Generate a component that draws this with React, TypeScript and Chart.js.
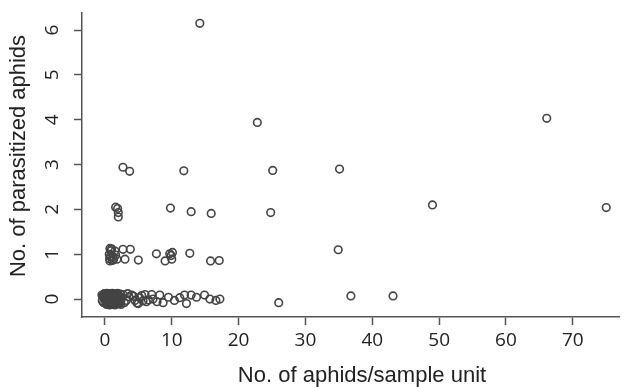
import React, { useEffect, useRef } from "react";
import { Chart, registerables } from "chart.js";

Chart.register(...registerables);

// Jittered counts: x = aphids per sample unit, y = parasitized aphids
const xVals: number[] = [
  // y ≈ 0, dense block
  0.0, 0.1, 0.2, 0.3, 0.4, 0.5, 0.6, 0.7, 0.8, 0.9, 1.0, 1.1, 1.2, 1.3, 1.4, 1.5, 1.6, 1.7, 1.8, 1.9, 2.0, 2.1, 2.2, 2.3, 2.4,
  -0.3, -0.2, 0.15, 0.35, 0.55, 0.75, 0.95, 1.15, 1.35, 1.55, 1.75, 1.95, 2.15, -0.1, 0.25, 0.65, 1.05, 1.45, 1.85, 2.25,
  0.05, 0.2, 0.45, 0.6, 0.85, 1.0, 1.25, 1.4, 1.65, 1.8, 2.0, 2.3, -0.4, -0.45, 0.3, 0.7, 1.1, 1.5, 1.9, 2.5,
  0.1, 0.9, 1.3, 1.7, 2.1, 0.5, -0.2, 2.4,
  // y ≈ 0, spread
  2.7, 3.2, 4.0, 4.5, 5.2, 5.7, 6.0, 7.0, 7.2, 8.2, 8.7, 9.5, 10.4, 11.2, 11.9, 12.2, 12.9, 13.7, 14.9, 15.7, 16.6, 17.2,
  3.6, 2.9, 5.0, 6.5, 7.8, 3.4, 4.3, 4.8, 5.5, 6.2, 26.0, 36.8, 43.1,
  // y ≈ 1
  0.75, 0.65, 0.75, 1.5, 1.8, 1.2, 0.9, 1.3, 2.7, 3.8, 3.0, 5.0, 7.7, 9.0, 9.7, 10.0, 9.9, 10.1, 12.7, 15.8, 17.1, 34.9,
  0.8, 1.0, 1.1, 1.6, 0.7,
  // y ≈ 2
  1.6, 1.9, 2.0, 2.0, 9.8, 12.9, 15.9, 24.8, 49.0, 75.0,
  // y ≈ 3
  2.7, 3.7, 11.8, 25.1, 35.1,
  // y ≈ 4
  22.8, 66.1,
  // y ≈ 6
  14.2,
];

const yVals: number[] = [
  0.08, -0.05, 0.11, -0.1, 0.02, 0.09, -0.07, 0.04, -0.12, 0.1, -0.02, 0.06, -0.09, 0.12, 0.0, -0.06, 0.08, -0.11, 0.03, 0.1, -0.04, 0.07, -0.1, 0.05, -0.02,
  0.05, -0.08, -0.01, 0.06, -0.11, 0.12, -0.03, 0.09, -0.07, 0.02, 0.11, -0.09, 0.0, 0.12, -0.12, 0.0, -0.1, 0.1, -0.05, 0.05,
  0.03, -0.09, 0.1, 0.0, -0.05, 0.08, -0.12, 0.1, -0.02, 0.09, -0.1, 0.11, -0.04, 0.09, 0.13, -0.13, 0.13, -0.13, 0.13, 0.02,
  0.0, 0.02, 0.04, -0.06, -0.07, -0.03, 0.1, -0.12,
  0.1, -0.03, 0.09, -0.03, 0.03, -0.04, 0.1, 0.1, 0.0, 0.09, -0.08, 0.04, -0.03, 0.03, 0.09, -0.1, 0.09, 0.04, 0.09, 0.0, -0.03, 0.0,
  0.05, -0.08, -0.1, -0.02, -0.06, 0.12, 0.06, -0.09, 0.08, -0.06, -0.08, 0.07, 0.07,
  1.13, 1.0, 0.85, 1.07, 0.89, 0.95, 1.08, 0.88, 1.11, 1.11, 0.89, 0.87, 1.01, 0.85, 1.01, 0.89, 0.97, 1.04, 1.02, 0.85, 0.86, 1.1,
  0.95, 1.12, 0.86, 0.98, 0.9,
  2.05, 2.02, 1.93, 1.83, 2.03, 1.95, 1.91, 1.93, 2.1, 2.04,
  2.94, 2.85, 2.86, 2.87, 2.9,
  3.94, 4.03,
  6.15,
];

const xTicks: number[] = [0, 10, 20, 30, 40, 50, 60, 70];
const yTicks: number[] = [0, 1, 2, 3, 4, 5, 6];
const xTitle = "No. of aphids/sample unit";
const yTitle = "No. of parasitized aphids";

export default function App() {
  const ref = useRef<HTMLCanvasElement | null>(null);

  useEffect(() => {
    document.body.style.margin = "0";
    const canvas = ref.current;
    if (!canvas) return;

    const axisColor = "#555555";
    const textColor = "#222222";

    const labelsPlugin = {
      id: "rLabels",
      afterDraw(chart: any) {
        const ctx = chart.ctx;
        const ys = chart.scales.y;
        const xs = chart.scales.x;
        ctx.save();
        ctx.fillStyle = textColor;
        // y tick labels, rotated
        ctx.font = "19px 'Open Sans'";
        ctx.textAlign = "center";
        ctx.textBaseline = "middle";
        for (const v of yTicks) {
          const py = ys.getPixelForValue(v);
          ctx.save();
          ctx.translate(53, py);
          ctx.rotate(-Math.PI / 2);
          ctx.fillText(String(v), 0, 0);
          ctx.restore();
        }
        // x tick labels
        for (const v of xTicks) {
          const px = xs.getPixelForValue(v);
          ctx.fillText(String(v), px, 341);
        }
        // titles
        ctx.font = "22px 'Liberation Sans'";
        ctx.fillText(xTitle, 362, 376);
        ctx.save();
        ctx.translate(19, 156);
        ctx.rotate(-Math.PI / 2);
        ctx.fillText(yTitle, 0, 0);
        ctx.restore();
        ctx.restore();
      },
    };

    const data = xVals.map((x, i) => ({ x, y: yVals[i] }));

    const chart = new Chart(canvas, {
      type: "scatter",
      data: {
        datasets: [
          {
            data,
            pointStyle: "circle",
            pointRadius: 3.8,
            pointBorderWidth: 1.6,
            pointBorderColor: "#444444",
            pointBackgroundColor: "rgba(0,0,0,0)",
            pointHoverRadius: 3.8,
          },
        ],
      },
      options: {
        animation: false,
        responsive: false,
        maintainAspectRatio: false,
        events: [],
        layout: { padding: { left: 0, top: 13, right: 4, bottom: 0 } },
        plugins: {
          legend: { display: false },
          tooltip: { enabled: false },
        },
        scales: {
          x: {
            type: "linear",
            min: -3.43,
            max: 77.0,
            afterBuildTicks: (scale: any) => {
              scale.ticks = xTicks.map((v) => ({ value: v }));
            },
            afterFit: (scale: any) => {
              scale.height = 70;
            },
            border: { display: true, color: axisColor, width: 1.5 },
            grid: {
              display: true,
              drawOnChartArea: false,
              drawTicks: true,
              tickLength: 8,
              tickWidth: 1.5,
              tickColor: axisColor,
            },
            ticks: { display: false },
          },
          y: {
            type: "linear",
            min: -0.4,
            max: 6.38,
            afterBuildTicks: (scale: any) => {
              scale.ticks = yTicks.map((v) => ({ value: v }));
            },
            afterFit: (scale: any) => {
              scale.width = 82;
            },
            border: { display: true, color: axisColor, width: 1.5 },
            grid: {
              display: true,
              drawOnChartArea: false,
              drawTicks: true,
              tickLength: 8,
              tickWidth: 1.5,
              tickColor: axisColor,
            },
            ticks: { display: false },
          },
        },
      },
      plugins: [labelsPlugin],
    });

    return () => {
      chart.destroy();
    };
  }, []);

  return (
    <div style={{ width: 625, height: 387, position: "relative", background: "#fff" }}>
      <canvas ref={ref} width={625} height={387} style={{ display: "block", width: 625, height: 387 }} />
    </div>
  );
}
